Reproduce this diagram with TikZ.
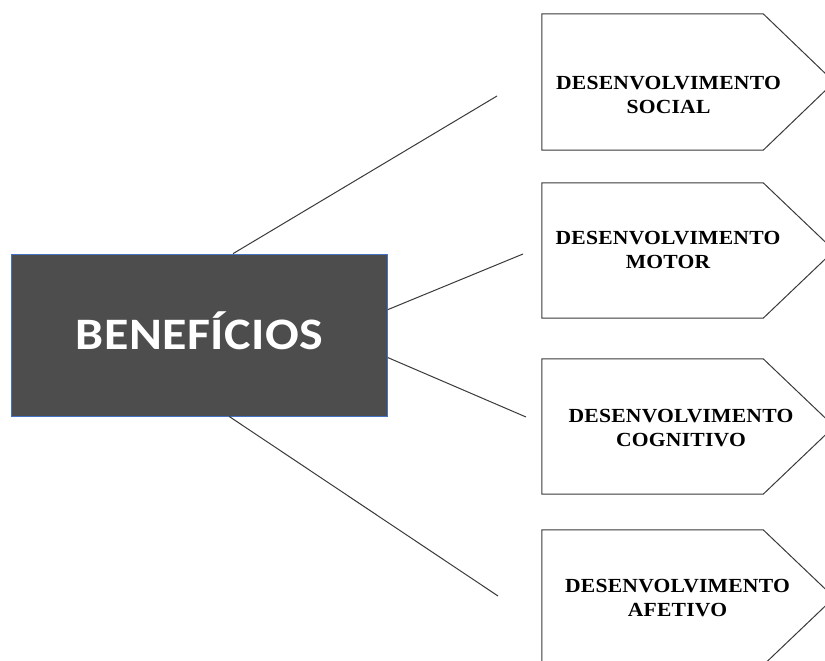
\documentclass[tikz,border=0pt]{standalone}
\usepackage{fontspec}
\usepackage{graphicx}
\setmainfont{Liberation Serif}
\newfontfamily\benfont[LetterSpace=1]{Carlito}
\newfontfamily\devfont[LetterSpace=1]{Liberation Serif}
\usetikzlibrary{calc}
\definecolor{mainfill}{HTML}{4D4D4D}
\definecolor{mainedge}{HTML}{4472C4}
\definecolor{linecol}{HTML}{3A3A3A}
\definecolor{pentcol}{HTML}{3A3A3A}
\newcommand\wideben[1]{\scalebox{1.11}[1]{#1}}
\newcommand\twolines[2]{\scalebox{1.08}[1]{#1}\\\scalebox{1.08}[1]{#2}}
\tikzset{
  mainbox/.style={draw=mainedge, line width=0.8pt, fill=mainfill, text=white,
    font=\benfont\bfseries\fontsize{45}{50}\selectfont,
    minimum width=376pt, minimum height=162pt, inner sep=0pt,
    text height=28.5pt, text depth=0pt},
  body/.style={rectangle, draw=none, minimum width=221pt, inner sep=0pt},
  devtext/.style={align=center, font=\devfont\bfseries\fontsize{20}{24}\selectfont, inner sep=0pt},
  link/.style={draw=linecol, line width=1pt},
  pent/.style={draw=pentcol, line width=1pt}
}
\begin{document}
\begin{tikzpicture}[x=1pt,y=-1pt]
\useasboundingbox (0,0) rectangle (825,661);
\fill[white] (0,0) rectangle (825,661);
\clip (0,0) rectangle (825,661);

\node[mainbox] (ben) at (199.5,335) {\wideben{BENEFÍCIOS}};

\node[body, minimum height=136pt] (p1) at (652.5,82) {};
\node[body, minimum height=135pt] (p2) at (652.5,250.5) {};
\node[body, minimum height=135pt] (p3) at (652.5,426.5) {};
\node[body, minimum height=135pt] (p4) at (652.5,597.5) {};
\foreach \i in {1,...,4}
  \draw[pent] (p\i.north west) -- (p\i.north east) -- ([xshift=71pt]p\i.east)
     -- (p\i.south east) -- (p\i.south west) -- cycle;

\node[devtext] (t1) at (668.5,95) {\twolines{DESENVOLVIMENTO}{SOCIAL}};
\node[devtext] (t2) at (668,250) {\twolines{DESENVOLVIMENTO}{MOTOR}};
\node[devtext] (t3) at (681,428.3) {\twolines{DESENVOLVIMENTO}{COGNITIVO}};
\node[devtext] (t4) at (677.5,597.7) {\twolines{DESENVOLVIMENTO}{AFETIVO}};

\coordinate (c1) at (497,96);
\coordinate (c2) at (523,254);
\coordinate (c3) at (526,417);
\coordinate (c4) at (498,596);
\draw[link] ([xshift=222pt]ben.north west) -- (c1);
\draw[link] ([yshift=-56pt]ben.north east) -- (c2);
\draw[link] ([yshift=-104pt]ben.north east) -- (c3);
\draw[link] ([xshift=218pt]ben.south west) -- (c4);
\end{tikzpicture}
\end{document}
